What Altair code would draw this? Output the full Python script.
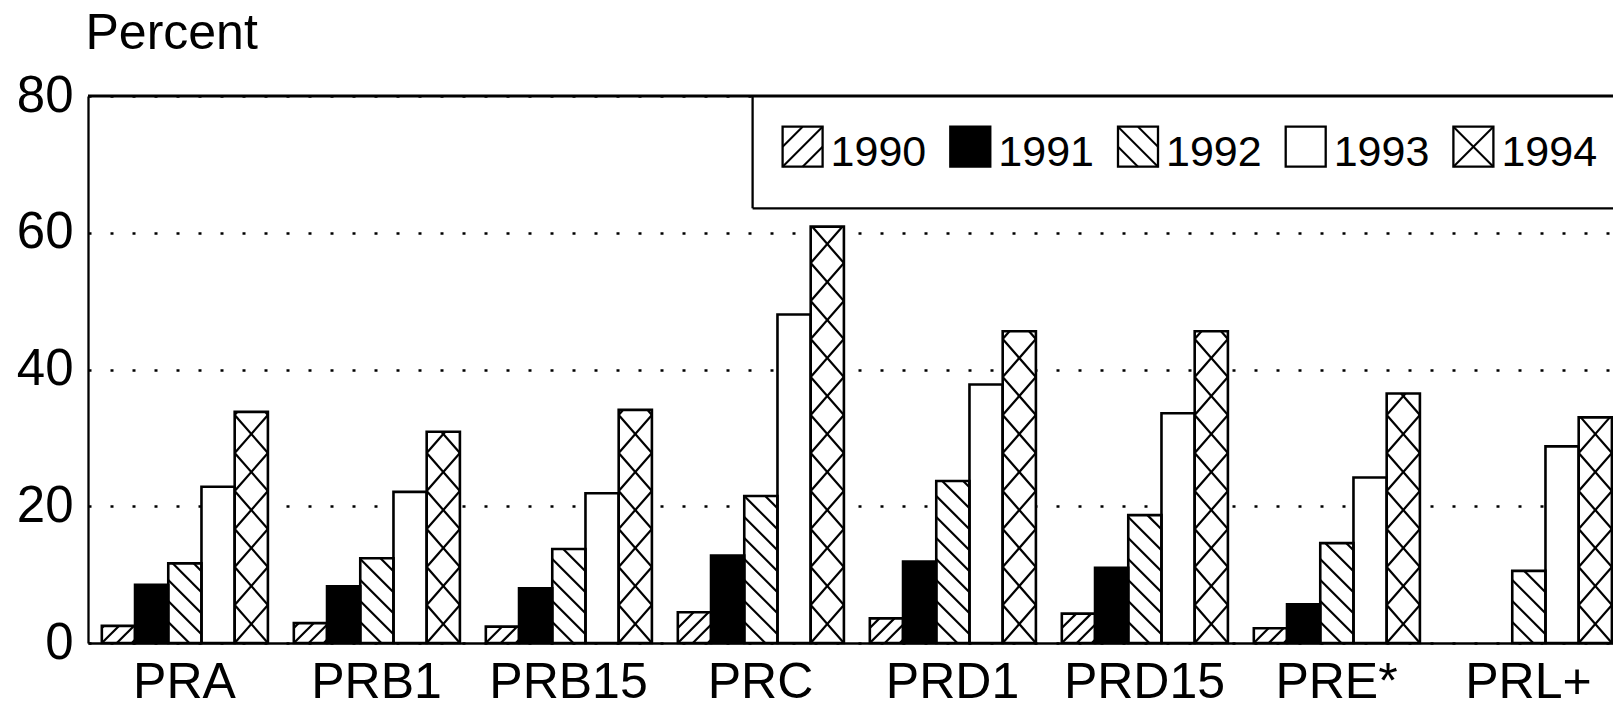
import json
import math
import altair as alt
import pandas as pd

# ---------------- data ----------------
categories = ["PRA", "PRB1", "PRB15", "PRC", "PRD1", "PRD15", "PRE*", "PRL+"]
years = ["1990", "1991", "1992", "1993", "1994"]
v1990 = [2.5, 2.9, 2.4, 4.5, 3.6, 4.3, 2.15, None]
v1991 = [8.5, 8.3, 8.0, 12.8, 11.9, 11.0, 5.65, None]
v1992 = [11.65, 12.4, 13.75, 21.5, 23.7, 18.7, 14.6, 10.55]
v1993 = [22.85, 22.1, 21.9, 48.05, 37.8, 33.6, 24.2, 28.75]
v1994 = [33.8, 30.9, 34.1, 60.9, 45.6, 45.6, 36.5, 33.0]
y_ticks = [0, 20, 40, 60, 80]
series = [v1990, v1991, v1992, v1993, v1994]
patterns = ["slash", "solid", "backslash", "empty", "cross"]

# ---------------- layout / style ----------------
FONT = "Liberation Sans"
W, H = 1525, 547
PX = 192.0                 # pixels per x unit (one group)
XMAX = W / PX
YMAX = 80
PY = H / YMAX              # pixels per percent
GROUP_PAD = 0.072
BAR_W = 0.173
LINE_W = 2.3

BAR_SPACING = {"slash": 15.0, "backslash": 21.0}
BAR_CROSS_CELL = 38.0
LEG_SPACING = 20.0
LEG_BOX_LEFT_PX = 664.6
LEG_BOX_BOTTOM_PX = 112.3
LEG_SYM_LEFT_PX = 694.6
LEG_STEP_PX = 167.7
LEG_SYM_TOP_PX = 30.7
LEG_SYM_PX = 40.0
LEG_TEXT_DX = 48.0
LEG_TEXT_BASE_PX = 69.7


def ydata(py_from_top):
    return YMAX - py_from_top / PY


def clip_line(a, c, w, h):
    if a > 0:
        lo = max(0.0, -c / a)
        hi = min(w, (h - c) / a)
    else:
        lo = max(0.0, (h - c) / a)
        hi = min(w, -c / a)
    if hi - lo <= 0.3:
        return None
    return (lo, a * lo + c, hi, a * hi + c)


def pattern_segments(kind, w, h, spacing, cell):
    segs = []
    if kind in ("slash", "backslash"):
        a = 1.0 if kind == "slash" else -1.0
        if a > 0:
            k0, k1 = math.floor(-w / spacing) - 1, math.ceil(h / spacing) + 1
        else:
            k0, k1 = 0, math.ceil((h + w) / spacing) + 1
        for k in range(k0, k1 + 1):
            s = clip_line(a, k * spacing, w, h)
            if s:
                segs.append(s)
    elif kind == "cross":
        a = cell / w
        n = math.ceil(h / cell)
        for k in range(n + 1):
            for aa, c in ((a, k * cell), (-a, (k + 1) * cell)):
                s = clip_line(aa, c, w, h)
                if s:
                    segs.append(s)
    return segs


bar_rows, hatch_rows = [], []
for gi, cat in enumerate(categories):
    for yi, yr in enumerate(years):
        v = series[yi][gi]
        if v is None:
            continue
        x0 = gi + GROUP_PAD + yi * BAR_W
        x1 = x0 + BAR_W
        kind = patterns[yi]
        bar_rows.append({"cat": cat, "year": yr, "x0": x0, "x1": x1, "y0": 0, "v": v,
                         "fill": "black" if kind == "solid" else "white"})
        for (ax, ay, bx, by) in pattern_segments(kind, BAR_W * PX, v * PY,
                                                 BAR_SPACING.get(kind, 20.0), BAR_CROSS_CELL):
            hatch_rows.append({"x": x0 + ax / PX, "x2": x0 + bx / PX,
                               "y": ay / PY, "y2": by / PY})

bars = pd.DataFrame(bar_rows)
hatch = pd.DataFrame(hatch_rows)

# legend (custom, because of hatch patterns)
leg_rows, leg_hatch_rows = [], []
sym_bottom = ydata(LEG_SYM_TOP_PX + LEG_SYM_PX)
sym_top = ydata(LEG_SYM_TOP_PX)
for yi, yr in enumerate(years):
    lx = (LEG_SYM_LEFT_PX + yi * LEG_STEP_PX)
    kind = patterns[yi]
    leg_rows.append({"year": yr, "x0": lx / PX, "x1": (lx + LEG_SYM_PX) / PX,
                     "y0": sym_bottom, "y1": sym_top,
                     "tx": (lx + LEG_TEXT_DX) / PX, "ty": ydata(LEG_TEXT_BASE_PX),
                     "fill": "black" if kind == "solid" else "white"})
    for (ax, ay, bx, by) in pattern_segments(kind, LEG_SYM_PX, LEG_SYM_PX, LEG_SPACING, LEG_SYM_PX):
        leg_hatch_rows.append({"x": (lx + ax) / PX, "x2": (lx + bx) / PX,
                               "y": sym_bottom + ay / PY, "y2": sym_bottom + by / PY})
legend = pd.DataFrame(leg_rows)
leg_hatch = pd.DataFrame(leg_hatch_rows)
box_left = LEG_BOX_LEFT_PX / PX
box_bottom = ydata(LEG_BOX_BOTTOM_PX)
leg_box = pd.DataFrame([{"x0": box_left, "x1": XMAX + 0.1, "y0": box_bottom, "y1": YMAX}])
leg_box_edges = pd.DataFrame([
    {"x": box_left, "x2": box_left, "y": box_bottom, "y2": YMAX},
    {"x": box_left, "x2": XMAX + 0.1, "y": box_bottom, "y2": box_bottom},
])
top_border = pd.DataFrame({"v": [YMAX]})

# ---------------- scales / axes ----------------
xscale = alt.Scale(domain=[0, XMAX], nice=False, zero=False)
yscale = alt.Scale(domain=[0, YMAX], nice=False, zero=False)

label_expr = json.dumps(categories) + "[floor(datum.value)]"
x_axis = alt.Axis(values=[i + 0.5 for i in range(len(categories))], labelExpr=label_expr,
                  grid=False, ticks=False, domain=True, domainColor="black", domainWidth=LINE_W,
                  labelFont=FONT, labelFontSize=50, labelColor="black", labelPadding=14,
                  labelOverlap=False, labelFlush=False, title="")
y_axis = alt.Axis(values=y_ticks, grid=True, gridColor="black", gridWidth=2.5, gridDash=[3, 19],
                  gridOpacity=1, ticks=False, domain=True, domainColor="black", domainWidth=LINE_W,
                  labelFont=FONT, labelFontSize=51, labelColor="black", labelPadding=15,
                  labelFlush=False, labelOverlap=False,
                  title="Percent", titleAngle=0, titleX=-3, titleY=-48, titleAlign="left",
                  titleBaseline="alphabetic", titleFont=FONT, titleFontSize=50,
                  titleFontWeight="normal", titleColor="black")


def X(field):
    return alt.X(field, type="quantitative", scale=xscale, axis=x_axis)


def Y(field):
    return alt.Y(field, type="quantitative", scale=yscale, axis=y_axis)


box = alt.Chart(leg_box).mark_rect(fill="white").encode(
    x=X("x0"), x2="x1", y=Y("y0"), y2="y1")

box_edges = alt.Chart(leg_box_edges).mark_rule(color="black", strokeWidth=LINE_W).encode(
    x=X("x"), x2="x2", y=Y("y"), y2="y2")

bar_fill = alt.Chart(bars).mark_rect().encode(
    x=X("x0"), x2="x1", y=Y("y0"), y2="v",
    fill=alt.Fill("fill:N", scale=None))

bar_hatch = alt.Chart(hatch).mark_rule(color="black", strokeWidth=2.2).encode(
    x=X("x"), x2="x2", y=Y("y"), y2="y2")

bar_outline = alt.Chart(bars).mark_rect(fillOpacity=0, stroke="black", strokeWidth=2.6).encode(
    x=X("x0"), x2="x1", y=Y("y0"), y2="v")

top_rule = alt.Chart(top_border).mark_rule(color="black", strokeWidth=2.8).encode(
    y=Y("v"))

leg_fill = alt.Chart(legend).mark_rect().encode(
    x=X("x0"), x2="x1", y=Y("y0"), y2="y1",
    fill=alt.Fill("fill:N", scale=None))

leg_h = alt.Chart(leg_hatch).mark_rule(color="black", strokeWidth=2.0).encode(
    x=X("x"), x2="x2", y=Y("y"), y2="y2")

leg_outline = alt.Chart(legend).mark_rect(fillOpacity=0, stroke="black", strokeWidth=2.3).encode(
    x=X("x0"), x2="x1", y=Y("y0"), y2="y1")

leg_text = alt.Chart(legend).mark_text(align="left", baseline="alphabetic", font=FONT,
                                       fontSize=43, color="black").encode(
    x=X("tx"), y=Y("ty"), text="year:N")

chart = alt.layer(
    box, box_edges, bar_fill, bar_hatch, bar_outline, top_rule,
    leg_fill, leg_h, leg_outline, leg_text
).properties(
    width=W, height=H,
    autosize=alt.AutoSizeParams(type="none"),
    padding={"left": 80, "top": 88, "right": 0, "bottom": 64},
).configure(font=FONT, background="white").configure_view(strokeWidth=0)

chart.save("out.html", embed_options={"renderer": "svg", "actions": False})
